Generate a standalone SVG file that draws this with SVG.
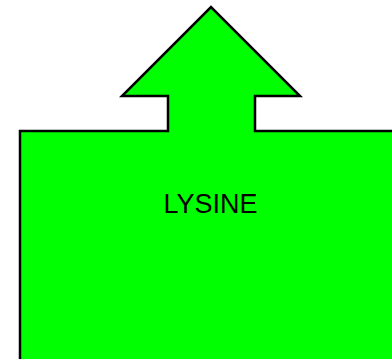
<svg xmlns="http://www.w3.org/2000/svg" width="392" height="359" viewBox="0 0 392 359">
  <style>
    .shape { fill: #00ff00; stroke: #000000; stroke-width: 2.5; stroke-linejoin: miter; }
    .label { font-family: "Liberation Sans", Arial, sans-serif; font-size: 27px; fill: #000000; text-anchor: middle; }
  </style>
  <g id="connectors"></g>
  <g id="lysine">
    <polygon class="shape" points="20,131 168,131 168,96 122,96 211,7 300,96 255,96 255,131 396,131 396,364 20,364"/>
    <text class="label" x="210.5" y="213">LYSINE</text>
  </g>
</svg>
